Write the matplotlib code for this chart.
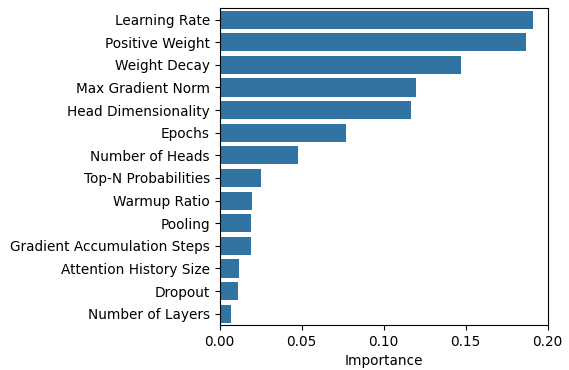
import matplotlib
matplotlib.use("Agg")
import matplotlib.pyplot as plt
import numpy as np

features = [
    "Learning Rate",
    "Positive Weight",
    "Weight Decay",
    "Max Gradient Norm",
    "Head Dimensionality",
    "Epochs",
    "Number of Heads",
    "Top-N Probabilities",
    "Warmup Ratio",
    "Pooling",
    "Gradient Accumulation Steps",
    "Attention History Size",
    "Dropout",
    "Number of Layers",
]
importance = [0.1909, 0.1866, 0.1470, 0.1195, 0.1165, 0.0768, 0.0476,
              0.0250, 0.0197, 0.0189, 0.0189, 0.0116, 0.0110, 0.0067]

plt.rcParams["font.size"] = 9.8

fig = plt.figure(figsize=(5.69, 3.70), dpi=100)
ax = fig.add_axes([0.386, 0.1216, 0.5776, 0.856])

y = np.arange(len(features))
ax.barh(y, importance, height=0.8, color="#3274a1")
ax.set_yticks(y)
ax.set_yticklabels(features)
ax.set_ylim(len(features) - 0.5, -0.5)
ax.set_xlim(0, max(importance) * 1.05)
ax.set_xticks([0.0, 0.05, 0.10, 0.15, 0.20])
ax.set_xticklabels(["0.00", "0.05", "0.10", "0.15", "0.20"])
ax.set_xlabel("Importance")

fig.savefig("out.png", dpi=100)
